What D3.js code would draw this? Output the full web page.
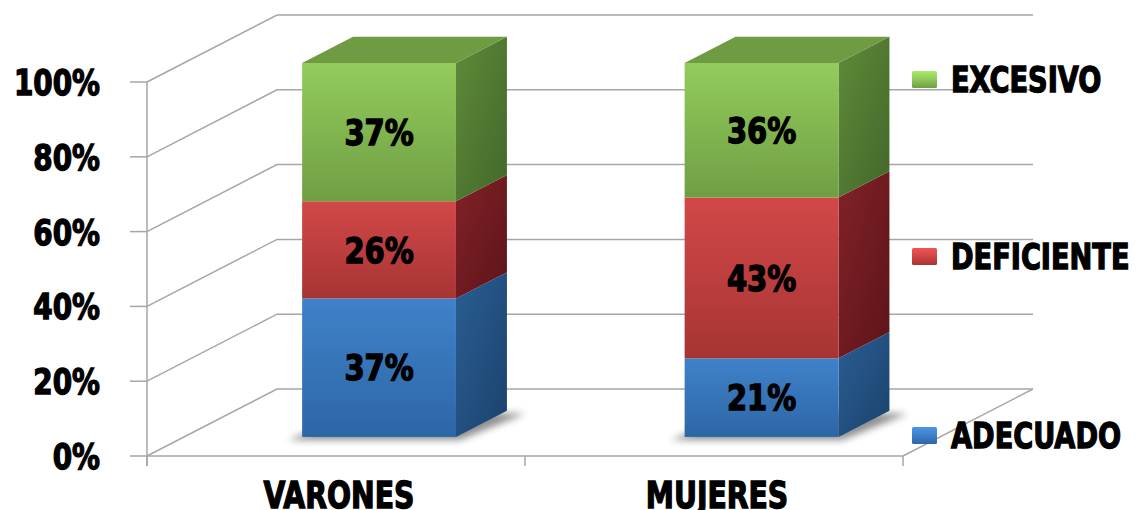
<!DOCTYPE html>
<html><head><meta charset="utf-8">
<script src="https://cdn.jsdelivr.net/npm/d3@7"></script>
<style>
html,body{margin:0;padding:0;background:#fff;}
svg{display:block;}
text{font-family:"DejaVu Sans Condensed","DejaVu Sans",sans-serif;font-weight:bold;fill:#000;stroke:#000;stroke-width:1.3px;paint-order:stroke;}
</style></head><body>
<script>
const categories = ["VARONES", "MUJERES"];
const series = ["ADECUADO", "DEFICIENTE", "EXCESIVO"];
const adecuado = [37, 21];
const deficiente = [26, 43];
const excesivo = [37, 36];
const yTicks = [0, 20, 40, 60, 80, 100];
const yTickLabels = ["0%", "20%", "40%", "60%", "80%", "100%"];
const legendLabels = ["EXCESIVO", "DEFICIENTE", "ADECUADO"];

const W = 1137, H = 510;
const svg = d3.select("body").append("svg").attr("width", W).attr("height", H);
const defs = svg.append("defs");

const y = d3.scaleLinear().domain([0, 100]).range([456, 82]);
const xCat = d3.scaleBand().domain(categories).range([147, 903]);
const xBar = d3.scalePoint().domain(categories).range([342, 724.5]);
const depthX = d3.scaleLinear().domain([0, 1]).range([0, 130]);
const depthY = d3.scaleLinear().domain([0, 1]).range([0, -67]);
const barFront = 0.285, barBack = 0.677;
const barW = xCat.bandwidth() * 0.407;
const proj = (x, v, d) => [x + depthX(d), y(v) + depthY(d)];

function condense(sel, k) {
  sel.each(function () {
    const w = this.getComputedTextLength();
    d3.select(this).attr("textLength", w * k).attr("lengthAdjust", "spacingAndGlyphs");
  });
}

const palette = {
  ADECUADO: {front: ["#3f82ca", "#2d66a6"], side: ["#2a5e94", "#1b426c"], top: "#3570b0"},
  DEFICIENTE: {front: ["#d24848", "#a73434"], side: ["#822228", "#5c1419"], top: "#a83535"},
  EXCESIVO: {front: ["#93cc5c", "#6f9e44"], side: ["#5f8b39", "#43672a"], top: "#6f9b42"}
};
series.forEach(s => {
  const p = palette[s];
  const gf = defs.append("linearGradient").attr("id", "f_" + s).attr("x1", 0).attr("y1", 0).attr("x2", 0).attr("y2", 1);
  gf.append("stop").attr("offset", "0%").attr("stop-color", p.front[0]);
  gf.append("stop").attr("offset", "100%").attr("stop-color", p.front[1]);
  const gs = defs.append("linearGradient").attr("id", "s_" + s).attr("x1", 0).attr("y1", 0).attr("x2", 1).attr("y2", 1);
  gs.append("stop").attr("offset", "0%").attr("stop-color", p.side[0]);
  gs.append("stop").attr("offset", "100%").attr("stop-color", p.side[1]);
  const gl = defs.append("linearGradient").attr("id", "l_" + s).attr("x1", 0).attr("y1", 0).attr("x2", 0).attr("y2", 1);
  gl.append("stop").attr("offset", "0%").attr("stop-color", d3.color(p.front[0]).brighter(0.4));
  gl.append("stop").attr("offset", "45%").attr("stop-color", p.front[0]);
  gl.append("stop").attr("offset", "100%").attr("stop-color", p.front[1]);
});
defs.append("filter").attr("id", "blur").attr("x", "-20%").attr("y", "-50%").attr("width", "140%").attr("height", "200%")
  .append("feGaussianBlur").attr("stdDeviation", 3.5);

const grid = svg.append("g").attr("stroke", "#a6a6a6").attr("stroke-width", 1.5).attr("fill", "none");
const xL = xCat.range()[0], xR = xCat.range()[1];
yTicks.forEach(t => {
  const a = proj(xL, t, 0), b = proj(xL, t, 1), c = proj(xR, t, 1);
  grid.append("path").attr("d", d3.line()([a, b, c]));
  grid.append("line").attr("x1", xL - 17).attr("x2", xL).attr("y1", y(t)).attr("y2", y(t));
});
grid.append("line").attr("x1", xL).attr("x2", xR).attr("y1", y(0)).attr("y2", y(0));
{ const a = proj(xR, 0, 0), b = proj(xR, 0, 1);
  grid.append("line").attr("x1", a[0]).attr("y1", a[1]).attr("x2", b[0]).attr("y2", b[1]); }
grid.append("line").attr("x1", xL).attr("x2", xL).attr("y1", y(100)).attr("y2", y(0) + 10);
[xL, xCat(categories[1]), xR].forEach(xx => {
  grid.append("line").attr("x1", xx).attr("x2", xx).attr("y1", y(0)).attr("y2", y(0) + 10);
});

svg.append("g").selectAll("text").data(yTicks).join("text")
  .attr("x", 100).attr("y", d => y(d)).attr("dy", "0.36em").attr("text-anchor", "end")
  .attr("font-size", 36).text((d, i) => yTickLabels[i])
  .call(condense, 0.86);

svg.append("g").selectAll("text").data(categories).join("text")
  .attr("x", d => xCat(d) + xCat.bandwidth() / 2 + 3).attr("y", 508).attr("text-anchor", "middle")
  .attr("font-size", 37).text(d => d)
  .call(condense, 0.85);

const stackData = categories.map((c, i) => ({cat: c, ADECUADO: adecuado[i], DEFICIENTE: deficiente[i], EXCESIVO: excesivo[i]}));
const stacked = d3.stack().keys(series)(stackData);
const bars = svg.append("g");
categories.forEach((c, ci) => {
  const x0 = xBar(c) - barW / 2, x1 = xBar(c) + barW / 2;
  const g = bars.append("g");
  const s1 = proj(x0 - 14, 0, barFront), s2 = proj(x1 + 4, 0, barFront),
        s3 = proj(x1 + 18, 0, barBack), s4 = proj(x0 + 10, 0, barBack);
  g.append("path").attr("d", d3.line()([[s1[0], s1[1] + 3], [s2[0], s2[1] + 3], [s3[0], s3[1] + 3], s4]) + "Z")
    .attr("fill", "#555").attr("opacity", 0.65).attr("filter", "url(#blur)");
  stacked.forEach(layer => {
    const d = layer[ci], s = layer.key;
    const v0 = d[0], v1 = d[1];
    const side = [proj(x1, v0, barFront), proj(x1, v0, barBack), proj(x1, v1, barBack), proj(x1, v1, barFront)];
    g.append("path").attr("d", d3.line()(side) + "Z").attr("fill", `url(#s_${s})`);
    const f0 = proj(x0, v1, barFront), f1 = proj(x1, v0, barFront);
    g.append("rect").attr("x", f0[0]).attr("y", f0[1]).attr("width", f1[0] - f0[0]).attr("height", f1[1] - f0[1])
      .attr("fill", `url(#f_${s})`);
    if (s === series[series.length - 1]) {
      const top = [proj(x0, v1, barFront), proj(x1, v1, barFront), proj(x1, v1, barBack), proj(x0, v1, barBack)];
      g.append("path").attr("d", d3.line()(top) + "Z").attr("fill", palette[s].top);
    }
    const c0 = proj((x0 + x1) / 2, (v0 + v1) / 2, barFront);
    g.append("text").attr("x", c0[0]).attr("y", c0[1]).attr("dy", "0.36em").attr("text-anchor", "middle")
      .attr("font-size", 35).text(layer[ci].data[s] + "%")
      .call(condense, 0.92);
  });
});

const legendY = [79, 256, 435];
const lg = svg.append("g");
legendLabels.forEach((s, i) => {
  lg.append("rect").attr("x", 912).attr("y", legendY[i] - 8).attr("width", 25).attr("height", 17)
    .attr("rx", 1.5).attr("fill", `url(#l_${s})`);
  lg.append("text").attr("x", 951).attr("y", legendY[i]).attr("dy", "0.36em").attr("font-size", 36).text(s)
    .call(condense, 0.84);
});
</script>
</body></html>
